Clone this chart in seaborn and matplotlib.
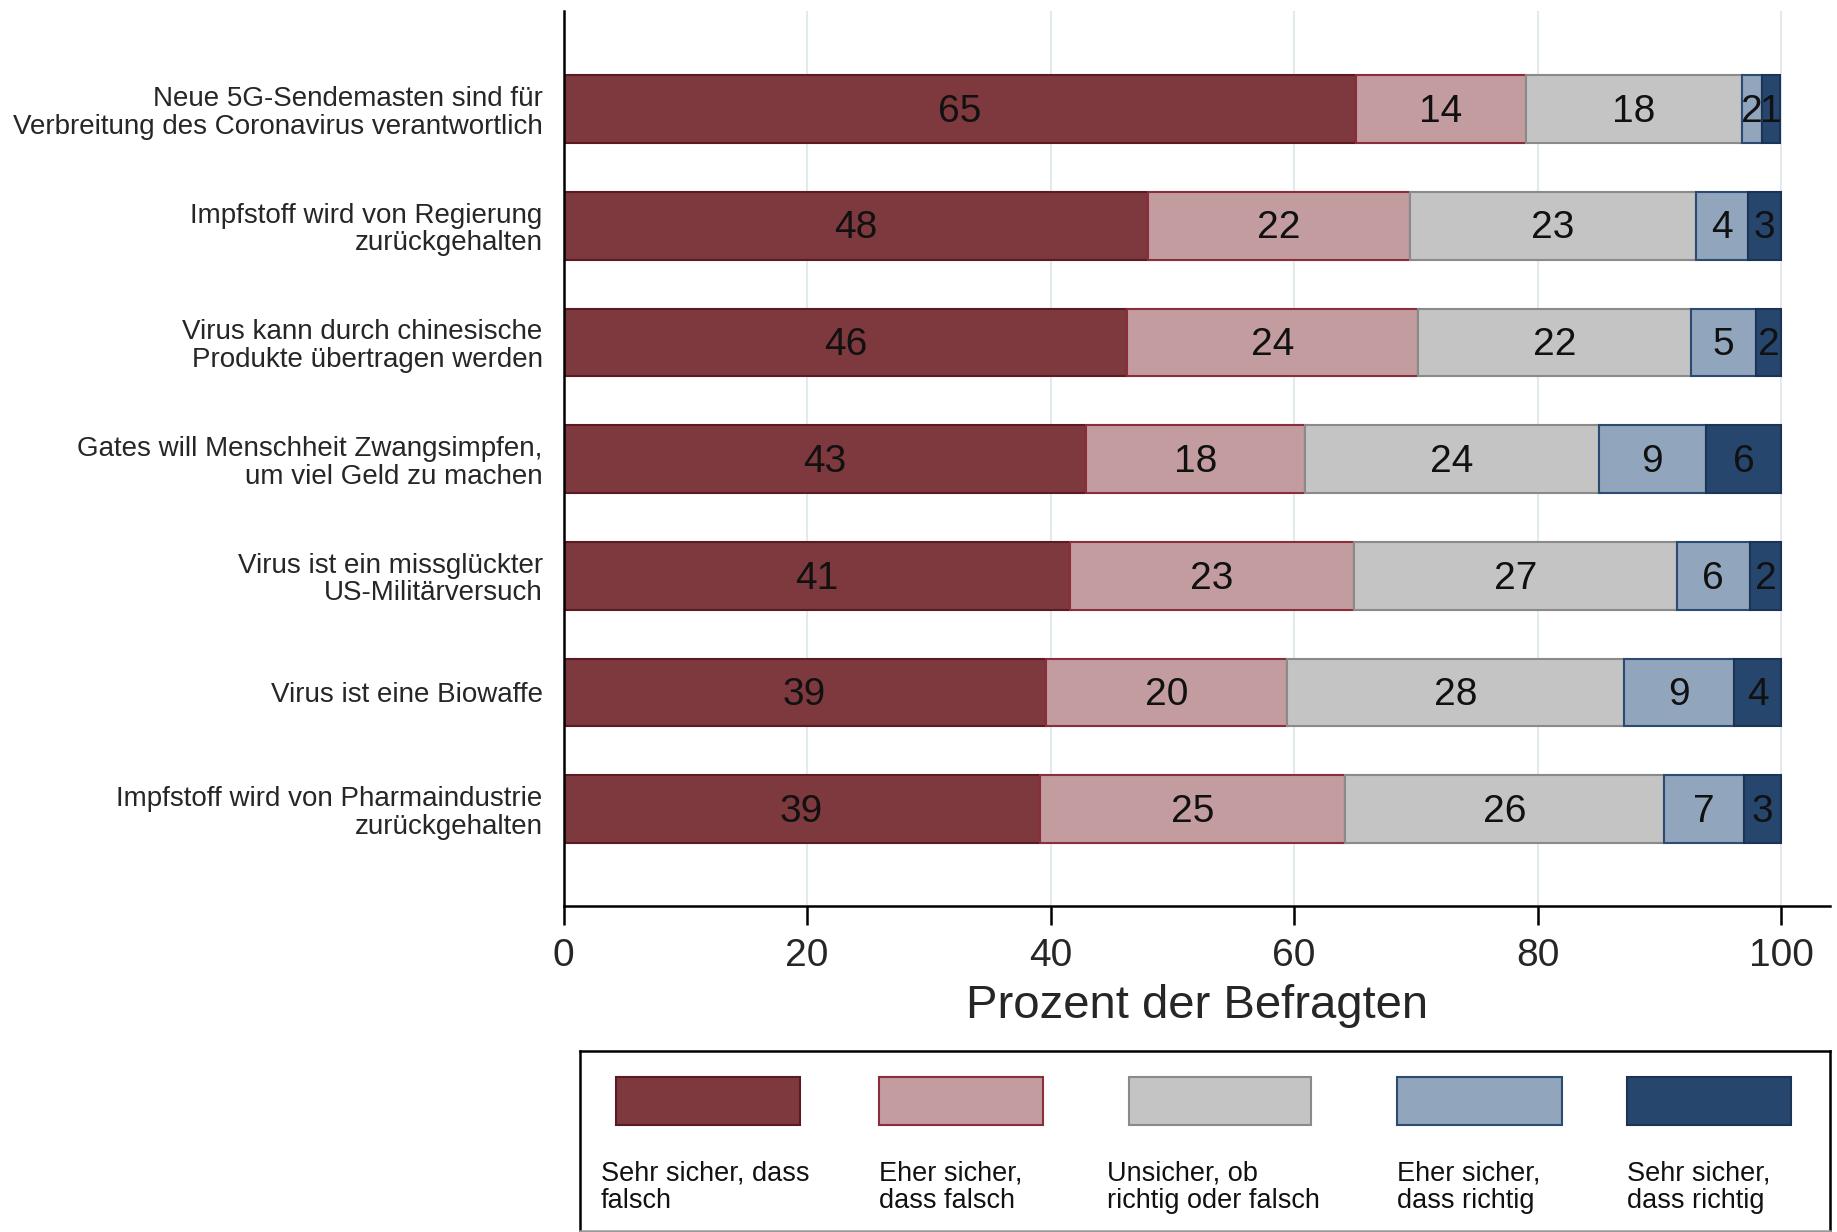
import pandas as pd
import seaborn as sns
import matplotlib.pyplot as plt
from matplotlib.patches import Rectangle

sns.set_style('white')
plt.rcParams['font.family'] = ['Liberation Sans', 'DejaVu Sans']

# Aussagen (von oben nach unten)
statements = [
    'Neue 5G-Sendemasten sind für\nVerbreitung des Coronavirus verantwortlich',
    'Impfstoff wird von Regierung\nzurückgehalten',
    'Virus kann durch chinesische\nProdukte übertragen werden',
    'Gates will Menschheit Zwangsimpfen,\num viel Geld zu machen',
    'Virus ist ein missglückter\nUS-Militärversuch',
    'Virus ist eine Biowaffe',
    'Impfstoff wird von Pharmaindustrie\nzurückgehalten',
]

categories = [
    'Sehr sicher, dass\nfalsch',
    'Eher sicher,\ndass falsch',
    'Unsicher, ob\nrichtig oder falsch',
    'Eher sicher,\ndass richtig',
    'Sehr sicher,\ndass richtig',
]

# Anteile
sehr_falsch = [65.1, 48.0, 46.3, 42.9, 41.6, 39.6, 39.1]
eher_falsch = [13.9, 21.5, 23.9, 18.0, 23.3, 19.8, 25.1]
unsicher = [17.8, 23.5, 22.4, 24.1, 26.5, 27.7, 26.2]
eher_richtig = [1.6, 4.3, 5.3, 8.8, 6.0, 9.0, 6.5]
sehr_richtig = [1.5, 2.7, 2.1, 6.2, 2.6, 3.9, 3.1]

# gedruckte Werte in den Balken
lab_sehr_falsch = [65, 48, 46, 43, 41, 39, 39]
lab_eher_falsch = [14, 22, 24, 18, 23, 20, 25]
lab_unsicher = [18, 23, 22, 24, 27, 28, 26]
lab_eher_richtig = [2, 4, 5, 9, 6, 9, 7]
lab_sehr_richtig = [1, 3, 2, 6, 2, 4, 3]

series = [sehr_falsch, eher_falsch, unsicher, eher_richtig, sehr_richtig]
labels = [lab_sehr_falsch, lab_eher_falsch, lab_unsicher, lab_eher_richtig, lab_sehr_richtig]

fills = ['#7e393e', '#c39c9f', '#c4c4c4', '#91a5bc', '#27466d']
edges = ['#5c1a23', '#8b2d3b', '#8a8a8a', '#2c4b72', '#1b3456']

fig = plt.figure(figsize=(18.37, 12.32), dpi=100)
ax = fig.add_axes([563.5 / 1837, 326 / 1232, (1830 - 563.5) / 1837, (906 - 11) / 1232])

left = [0.0] * len(statements)
for vals, labs, fc, ec in zip(series, labels, fills, edges):
    df = pd.DataFrame({'Aussage': statements, 'Prozent': vals})
    sns.barplot(data=df, x='Prozent', y='Aussage', orient='y', ax=ax,
                color=fc, saturation=1, errorbar=None, width=0.58,
                left=left, edgecolor=ec, linewidth=1.5)
    txts = ax.bar_label(ax.containers[-1], labels=[str(v) for v in labs],
                        label_type='center', fontsize=28, color='#111111')
    for t in txts:
        t.xyann = (0, -2)
    left = [l + v for l, v in zip(left, vals)]

ax.set_xlim(0, 104)
ax.set_ylim(6.83, -0.84)
ax.set_xticks([0, 20, 40, 60, 80, 100])
ax.xaxis.grid(True, color='#e2eaee', linewidth=1.5)
ax.yaxis.grid(False)
ax.set_axisbelow(True)

for s in ['top', 'right']:
    ax.spines[s].set_visible(False)
for s in ['left', 'bottom']:
    ax.spines[s].set_color('black')
    ax.spines[s].set_linewidth(1.8)

ax.tick_params(axis='x', direction='out', length=13.5, width=1.8, color='black',
               labelsize=28, pad=9.5, bottom=True)
ax.tick_params(axis='y', length=0, labelsize=20, pad=15)
for t in ax.get_yticklabels():
    t.set_linespacing(1.08)

ax.set_ylabel('')
ax.set_xlabel('Prozent der Befragten', fontsize=34, labelpad=7)

# Legende (Stata-Stil: Feld oben, Text darunter)
lax = fig.add_axes([580 / 1837, 1 / 1232, 1250 / 1837, 180 / 1232])
lax.set_xlim(580, 1830)
lax.set_ylim(1231, 1051)
lax.set_xticks([])
lax.set_yticks([])
for s in lax.spines.values():
    s.set_color('black')
    s.set_linewidth(1.8)
lax.spines['bottom'].set_color('#999999')

key_x = [(616, 800), (879, 1043), (1129, 1311), (1397, 1562), (1627, 1791)]
text_x = [601, 879, 1107, 1397, 1627]
for (x0, x1), tx, cat, fc, ec in zip(key_x, text_x, categories, fills, edges):
    lax.add_patch(Rectangle((x0, 1077), x1 - x0, 48, facecolor=fc,
                            edgecolor=ec, linewidth=1.5))
    lax.text(tx, 1160, cat, ha='left', va='top', fontsize=19.5,
             linespacing=1.1, color='#111111')

fig.savefig('out.png', dpi=100)
